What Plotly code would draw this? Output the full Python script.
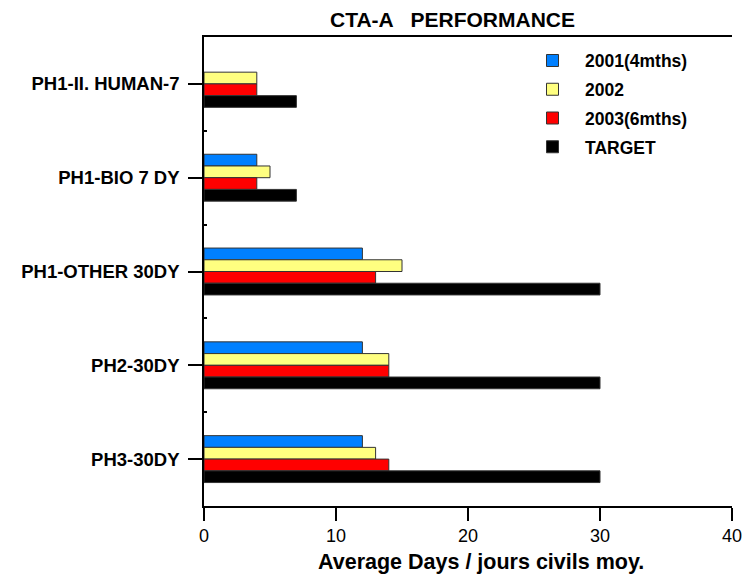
import plotly.graph_objects as go

categories = ["PH1-II. HUMAN-7", "PH1-BIO 7 DY", "PH1-OTHER 30DY", "PH2-30DY", "PH3-30DY"]
series_names = ["2001(4mths)", "2002", "2003(6mths)", "TARGET"]
v2001 = [None, 4, 12, 12, 12]
v2002 = [4, 5, 15, 14, 13]
v2003 = [4, 4, 13, 14, 14]
target = [7, 7, 30, 30, 30]
x_ticks = [0, 10, 20, 30, 40]
x_tick_labels = ["0", "10", "20", "30", "40"]

colors = ["#0080FF", "#FFFF80", "#FF0000", "#000000"]
values = [v2001, v2002, v2003, target]

fig = go.Figure()
for i, (name, vals, col) in enumerate(zip(series_names, values, colors)):
    fig.add_trace(go.Bar(
        y=categories, x=vals, name=name, orientation="h",
        marker=dict(color=col, line=dict(color="#333333", width=1)),
        legendgroup=f"g{i}",
    ))
# empty helper trace so the boundary-tick axis is drawn
fig.add_trace(go.Scatter(x=[None], y=[None], yaxis="y2", showlegend=False,
                         hoverinfo="skip", mode="markers"))

FONT = "Liberation Sans, Arial, sans-serif"
n = len(categories)
fig.update_layout(
    width=755, height=577,
    margin=dict(l=204, r=23, t=37, b=71),
    paper_bgcolor="white", plot_bgcolor="white",
    barmode="group", bargap=0.5, bargroupgap=0,
    showlegend=True,
    legend=dict(x=(520 - 204) / 528, y=0.988, xanchor="left", yanchor="top",
                font=dict(family=FONT, size=17.5, color="black", weight="bold"),
                bgcolor="rgba(0,0,0,0)", tracegroupgap=3, itemwidth=55),
    font=dict(family=FONT, color="black"),
    xaxis=dict(
        range=[0, 40], tickvals=x_ticks, ticktext=x_tick_labels,
        showgrid=False, zeroline=False,
        showline=True, linecolor="black", linewidth=1.5, mirror=True,
        ticks="outside", ticklen=13, tickwidth=1.5, tickcolor="black",
        tickfont=dict(family=FONT, size=18, color="black"),
    ),
    yaxis=dict(
        categoryorder="array", categoryarray=categories, autorange="reversed",
        showgrid=False, zeroline=False,
        showline=True, linecolor="black", linewidth=1.5, mirror=False,
        ticks="outside", ticklen=14, tickwidth=1.5, tickcolor="black",
        tickfont=dict(family=FONT, size=18.5, color="black", weight="bold"),
        ticklabelstandoff=5,
    ),
    yaxis2=dict(
        overlaying="y", side="left", type="linear",
        range=[n - 0.5, -0.5], autorange=False, tickmode="array",
        tickvals=[k + 0.5 for k in range(n - 1)], ticks="inside",
        ticklen=3, tickwidth=2, tickcolor="black",
        showticklabels=False, showgrid=False, zeroline=False, showline=False,
    ),
)
fig.add_annotation(text="CTA-A   PERFORMANCE", xref="paper", yref="paper",
                   x=(452 - 204) / 528, y=1, yshift=18, yanchor="middle", xanchor="center",
                   showarrow=False, font=dict(family=FONT, size=21, color="black", weight="bold"))
fig.add_annotation(text="Average Days / jours civils moy.", xref="paper", yref="paper",
                   x=(481 - 204) / 528, y=0, yshift=-56, yanchor="middle", xanchor="center",
                   showarrow=False, font=dict(family=FONT, size=21.5, color="black", weight="bold"))
fig.write_html("out.html", config={"displayModeBar": False},
               post_script="document.body.style.margin='0';document.body.style.overflow='hidden';")
